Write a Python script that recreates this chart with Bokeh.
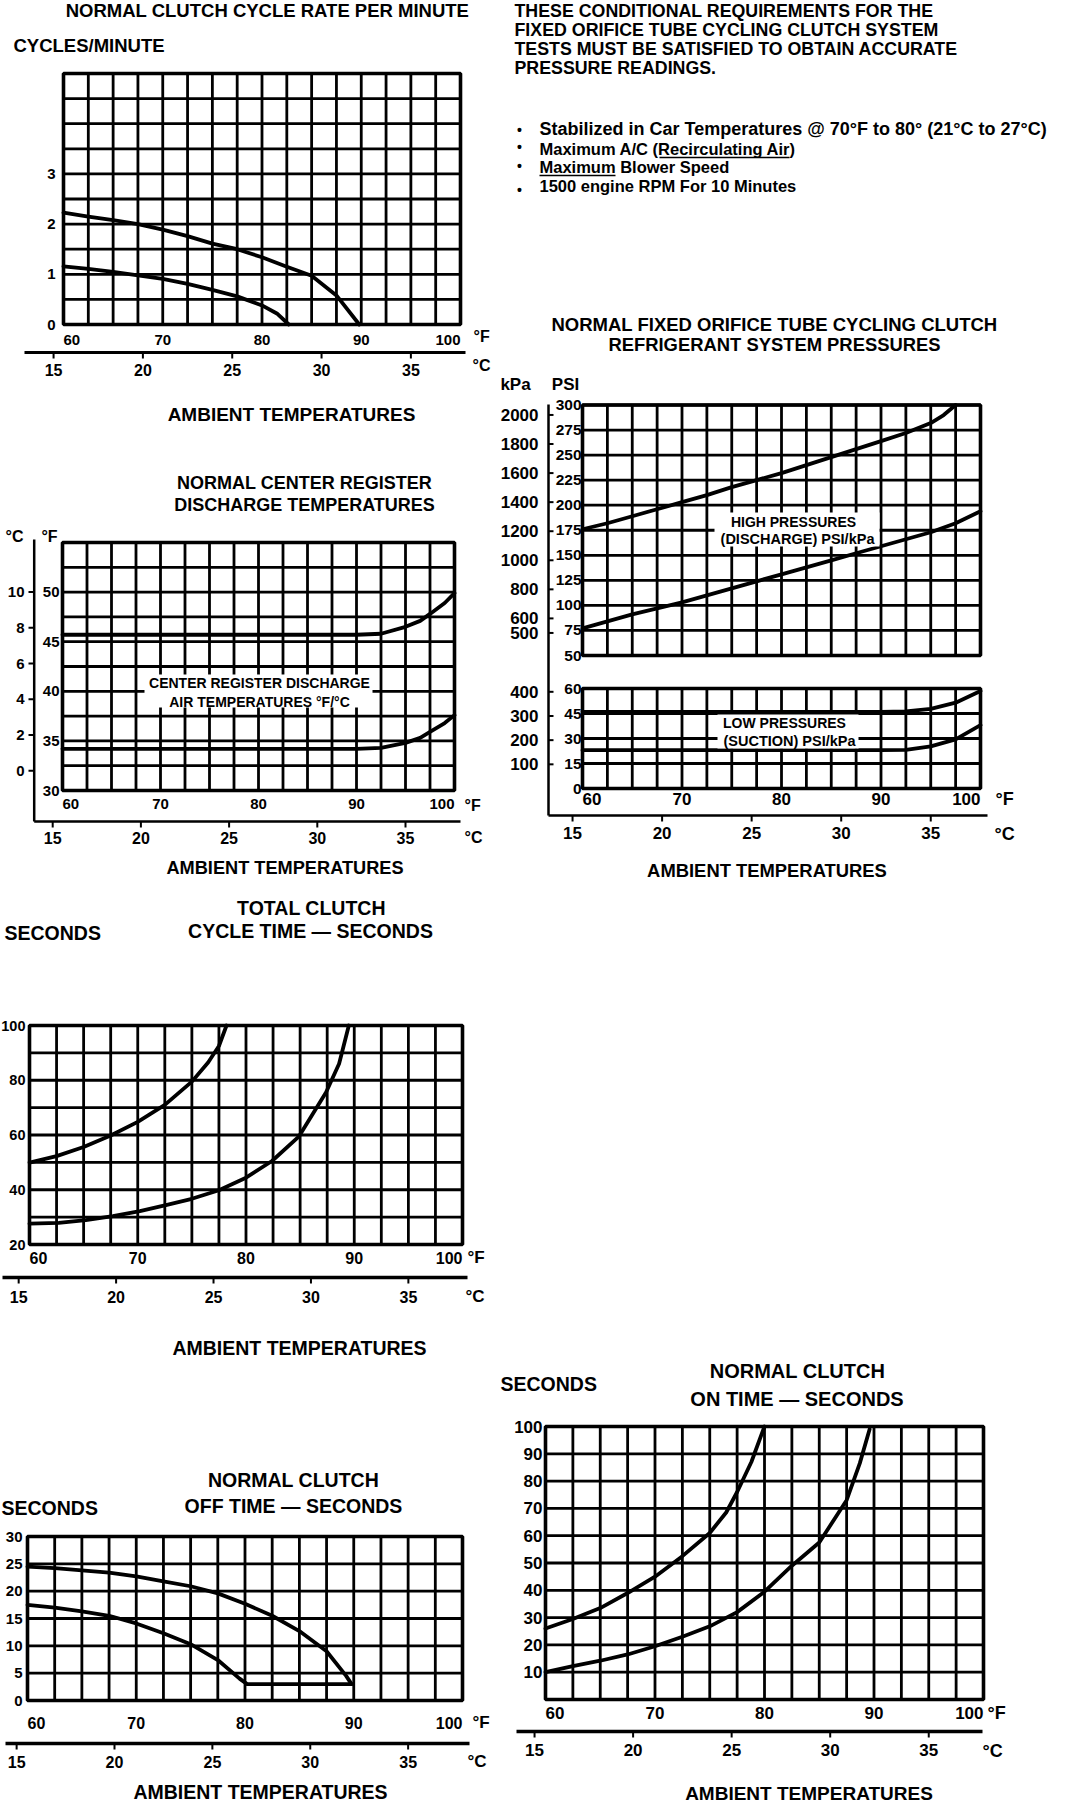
from bokeh.plotting import figure
from bokeh.models import Range1d
from bokeh.core.properties import value
from bokeh.embed import file_html
from bokeh.resources import INLINE

FONT = "Liberation Sans"
W, H = 1056, 1804

# ---------------- shared axis values ----------------
F_GRID = [60, 62.5, 65, 67.5, 70, 72.5, 75, 77.5, 80, 82.5, 85, 87.5, 90, 92.5, 95, 97.5, 100]
F_TICKS = [60, 70, 80, 90, 100]
F_LABELS = ["60", "70", "80", "90", "100"]
C_TICKS = [15, 20, 25, 30, 35]
C_LABELS = ["15", "20", "25", "30", "35"]

# ---------------- 1: clutch cycle rate per minute ----------------
RATE_ROWS = [0, 0.5, 1, 1.5, 2, 2.5, 3, 3.5, 4, 4.5, 5]
RATE_TICKS = [0, 1, 2, 3]
RATE_TICK_LABELS = ["0", "1", "2", "3"]
RATE_HI_F = [60, 62.5, 65, 67.5, 70, 72.5, 75, 77.5, 80, 82.5, 85, 87.5, 89.8]
RATE_HI = [2.23, 2.15, 2.08, 2.0, 1.89, 1.76, 1.61, 1.5, 1.34, 1.15, 0.97, 0.58, 0.0]
RATE_LO_F = [60, 62.5, 65, 67.5, 70, 72.5, 75, 77.5, 80, 81.5, 82.7]
RATE_LO = [1.16, 1.11, 1.05, 0.98, 0.91, 0.81, 0.69, 0.56, 0.38, 0.22, 0.0]

# ---------------- 2: center register discharge temperatures ----------------
REG_ROWS = [30, 32.5, 35, 37.5, 40, 42.5, 45, 47.5, 50, 52.5, 55]
REG_TICKS_F = [30, 35, 40, 45, 50]
REG_TICK_LABELS_F = ["30", "35", "40", "45", "50"]
REG_TICKS_C = [0, 2, 4, 6, 8, 10]
REG_TICK_LABELS_C = ["0", "2", "4", "6", "8", "10"]
REG_F = [60, 70, 80, 90, 92.5, 95, 96.5, 97.5, 99, 100]
REG_HI = [45.7, 45.7, 45.7, 45.7, 45.8, 46.5, 47.1, 47.8, 48.9, 49.9]
REG_LO = [34.2, 34.2, 34.2, 34.2, 34.3, 34.8, 35.3, 35.9, 36.8, 37.6]

# ---------------- 3: total clutch cycle time ----------------
CYC_ROWS = [20, 30, 40, 50, 60, 70, 80, 90, 100]
CYC_TICKS = [20, 40, 60, 80, 100]
CYC_TICK_LABELS = ["20", "40", "60", "80", "100"]
CYC_HI_F = [60, 62.5, 65, 67.5, 70, 72.5, 75, 76.5, 77.5, 78.2]
CYC_HI = [49.9, 52.3, 55.6, 59.8, 64.8, 71.0, 79.5, 86.5, 92.5, 100]
CYC_LO_F = [60, 62.7, 65.2, 67.7, 70.2, 72.6, 75, 77.5, 80, 82.4, 84.9, 87.4, 88.6, 89.5]
CYC_LO = [27.6, 27.9, 28.9, 30.4, 32.2, 34.4, 36.7, 39.8, 44.4, 50.5, 59.5, 75.6, 86, 100]

# ---------------- 4: clutch off time ----------------
OFF_ROWS = [0, 5, 10, 15, 20, 25, 30]
OFF_TICKS = [0, 5, 10, 15, 20, 25, 30]
OFF_TICK_LABELS = ["0", "5", "10", "15", "20", "25", "30"]
OFF_HI_F = [60, 62.5, 65, 67.5, 70, 72.5, 75, 77.5, 80, 82.5, 85, 87.5, 89.3, 89.8]
OFF_HI = [24.5, 24.2, 23.8, 23.4, 22.7, 21.8, 20.9, 19.6, 17.7, 15.5, 12.7, 9.0, 4.5, 3.0]
OFF_LO_F = [60, 62.5, 65, 67.5, 70, 72.5, 75, 77.5, 79.5, 80.2, 89.8]
OFF_LO = [17.5, 17.0, 16.3, 15.5, 14.1, 12.3, 10.3, 7.4, 4.0, 3.0, 3.0]

# ---------------- 5: refrigerant system pressures ----------------
HP_ROWS = [50, 75, 100, 125, 150, 175, 200, 225, 250, 275, 300]
HP_TICK_LABELS = ["50", "75", "100", "125", "150", "175", "200", "225", "250", "275", "300"]
LP_ROWS = [0, 15, 30, 45, 60]
LP_TICK_LABELS = ["0", "15", "30", "45", "60"]
KPA_HI = [500, 600, 800, 1000, 1200, 1400, 1600, 1800, 2000]
KPA_LO = [100, 200, 300, 400]
HP_HI_F = [60, 62.5, 65, 67.5, 70, 72.5, 75, 77.5, 80, 82.5, 85, 87.5, 90, 92.5, 95, 96.3, 97.5]
HP_HI = [176, 182, 189, 196, 203, 210, 218, 225, 232, 240, 248, 256, 264, 272, 282, 290, 300]
HP_LO_F = [60, 62.5, 65, 67.5, 70, 72.5, 75, 77.5, 80, 82.5, 85, 87.5, 90, 92.5, 95, 97.5, 100]
HP_LO = [77, 84, 91, 97, 103, 110, 117, 124, 131, 138, 145, 152, 159, 166, 173, 182, 194]
LP_F = [60, 70, 80, 90, 92.5, 95, 97.5, 100]
LP_HI = [46, 46, 46, 46, 46.3, 47.8, 51.5, 58.5]
LP_LO = [23, 23, 23, 23, 23.2, 25.3, 29.5, 38]

# ---------------- 6: clutch on time ----------------
ON_ROWS = [0, 10, 20, 30, 40, 50, 60, 70, 80, 90, 100]
ON_TICKS = [10, 20, 30, 40, 50, 60, 70, 80, 90, 100]
ON_TICK_LABELS = ["10", "20", "30", "40", "50", "60", "70", "80", "90", "100"]
ON_HI_F = [60, 62.5, 65, 67.5, 70, 72.5, 75, 76.5, 77.5, 78.8, 80]
ON_HI = [26, 29.5, 33.5, 39, 45, 52.5, 61, 68.5, 76, 87, 100]
ON_LO_F = [60, 62.5, 65, 67.5, 70, 72.5, 75, 77.5, 80, 82.5, 85, 87.5, 88.7, 89.6]
ON_LO = [10, 12.2, 14.2, 16.5, 19.5, 23, 26.8, 32, 39.5, 49, 57.5, 73, 86.5, 99]

# ---------------- text block ----------------
PARA = ["THESE CONDITIONAL REQUIREMENTS FOR THE",
        "FIXED ORIFICE TUBE CYCLING CLUTCH SYSTEM",
        "TESTS MUST BE SATISFIED TO OBTAIN ACCURATE",
        "PRESSURE READINGS."]
BULLETS = ["Stabilized in Car Temperatures @ 70°F to 80° (21°C to 27°C)",
           "Maximum A/C (Recirculating Air)",
           "Maximum Blower Speed",
           "1500 engine RPM For 10 Minutes"]

# ================= figure =================
p = figure(width=W, height=H, x_range=Range1d(8, 8 + W), y_range=Range1d(8 + H, 8),
           x_axis_type=None, y_axis_type=None, toolbar_location=None,
           output_backend="svg", outline_line_color=None)
p.min_border_left = p.min_border_right = p.min_border_top = p.min_border_bottom = 0

XR, YR = {}, {}


def ranges(name, L, R, T, B, y0, y1):
    """Scales for one panel: degF box spans L..R px, value box spans B..T px."""
    kx = (R - L) / 40.0
    xs = 60 - (L - 8) / kx
    xe = xs + W / kx
    ky = (B - T) / (y1 - y0)
    ys = y0 - (8 + H - B) / ky
    ye = y1 + (T - 8) / ky
    XR[name + "F"] = Range1d(xs, xe)
    XR[name + "C"] = Range1d((xs - 32) / 1.8, (xe - 32) / 1.8)
    YR[name] = Range1d(ys, ye)
    return ys, ye


ys2, ye2 = ranges("p2", 70, 462, 550, 798, 30, 55)
ranges("p1", 71, 468, 81, 332, 0, 5)
ranges("p3", 37, 470, 1033, 1252, 20, 100)
ranges("p4", 35, 470, 1544, 1708, 0, 30)
ysu, yeu = ranges("p5u", 590, 988, 412.5, 663, 50, 300)
ysl, yel = ranges("p5l", 590, 988, 696, 796, 0, 60)
ranges("p6", 553, 991, 1434, 1707, 0, 100)
YR["p2C"] = Range1d((ys2 - 32) / 1.8, (ye2 - 32) / 1.8)
YR["p5uK"] = Range1d(ysu * 6.895, yeu * 6.895)
YR["p5lK"] = Range1d(ysl * 6.895, yel * 6.895)
p.extra_x_ranges = XR
p.extra_y_ranges = YR


def T(x, y, s, size, align="center", xr="default", yr="default", baseline="middle", style="bold"):
    if not isinstance(s, list):
        s = [s]
    n = len(s)
    x = x if isinstance(x, list) else [x] * n
    y = y if isinstance(y, list) else [y] * n
    p.text(x=x, y=y, text=s, x_range_name=xr, y_range_name=yr,
           text_font=value(FONT), text_font_size=f"{size}px", text_font_style=style,
           text_align=align, text_baseline=baseline, text_color="black")


def grid(name, rows, lw=2.8):
    y0, y1 = rows[0], rows[-1]
    n, m = len(F_GRID), len(rows)
    p.segment(x0=F_GRID, x1=F_GRID, y0=[y0] * n, y1=[y1] * n, x_range_name=name + "F",
              y_range_name=name, line_color="black", line_width=lw)
    p.segment(x0=[60] * m, x1=[100] * m, y0=rows, y1=rows, x_range_name=name + "F",
              y_range_name=name, line_color="black", line_width=lw)
    p.quad(left=[60], right=[100], bottom=[y0], top=[y1], x_range_name=name + "F",
           y_range_name=name, fill_color=None, line_color="black", line_width=3.6)


def curve(name, xs, ys, lw=3.8):
    p.line(xs, ys, x_range_name=name + "F", y_range_name=name, line_color="black",
           line_width=lw, line_join="round", line_cap="round")


def f_labels(name, ly, size):
    T(F_TICKS[:1], ly, F_LABELS[:1], size, "left", xr=name + "F")
    T(F_TICKS[1:4], ly, F_LABELS[1:4], size, "center", xr=name + "F")
    T(F_TICKS[4:], ly, F_LABELS[4:], size, "right", xr=name + "F")


def c_axis(name, ly, x0, x1, lw, label_y, size):
    p.segment(x0=[x0], x1=[x1], y0=[ly], y1=[ly], line_color="black", line_width=lw)
    p.segment(x0=C_TICKS, x1=C_TICKS, y0=[ly] * 5, y1=[ly + 6] * 5, x_range_name=name + "C",
              line_color="black", line_width=2)
    T(C_TICKS, label_y, C_LABELS, size, "center", xr=name + "C")


# ---------------- panel 1 ----------------
grid("p1", RATE_ROWS)
curve("p1", RATE_HI_F, RATE_HI)
curve("p1", RATE_LO_F, RATE_LO)
T(63, RATE_TICKS, RATE_TICK_LABELS, 15, "right", yr="p1")
T(275, 18, "NORMAL CLUTCH CYCLE RATE PER MINUTE", 18.5)
T(21, 53, "CYCLES/MINUTE", 18.5, "left")
f_labels("p1", 347, 15)
T(481, 344, "°F", 16, "left")
c_axis("p1", 360, 32, 473, 3, 377, 16)
T(480, 373, "°C", 16, "left")
T(299, 422, "AMBIENT TEMPERATURES", 19)

# ---------------- panel 2 ----------------
grid("p2", REG_ROWS)
curve("p2", REG_F, REG_HI)
curve("p2", REG_F, REG_LO)
T(67, REG_TICKS_F, REG_TICK_LABELS_F, 15, "right", yr="p2")
p.segment(x0=[41.7], x1=[41.7], y0=[547], y1=[829], line_color="black", line_width=2.5)
p.segment(x0=[36] * 6, x1=[41.7] * 6, y0=REG_TICKS_C, y1=REG_TICKS_C, y_range_name="p2C",
          line_color="black", line_width=2)
T(32, REG_TICKS_C, REG_TICK_LABELS_C, 15, "right", yr="p2C")
T(312, 490, "NORMAL CENTER REGISTER", 18)
T(312, 512, "DISCHARGE TEMPERATURES", 18)
T(22, 544, "°C", 16)
T(57, 544, "°F", 16)
f_labels("p2", 811, 15)
T(472, 813, "°F", 16, "left")
c_axis("p2", 829, 41.7, 468, 2.5, 845, 16)
T(472, 845, "°C", 16, "left")
T(292.5, 875, "AMBIENT TEMPERATURES", 18.2)
p.quad(left=[152], right=[380], top=[682], bottom=[715], fill_color="white", line_color=None)
T(267, 690, "CENTER REGISTER DISCHARGE", 14)
T(267, 709, "AIR TEMPERATURES °F/°C", 14)

# ---------------- panel 3 ----------------
grid("p3", CYC_ROWS)
curve("p3", CYC_HI_F, CYC_HI)
curve("p3", CYC_LO_F, CYC_LO)
T(33, CYC_TICKS, CYC_TICK_LABELS, 14.5, "right", yr="p3")
T(12, 940, "SECONDS", 19.5, "left")
T(319, 915, "TOTAL CLUTCH", 19.5)
T(318, 938, "CYCLE TIME — SECONDS", 19.5)
f_labels("p3", 1265, 16)
T(475, 1265, "°F", 17, "left")
c_axis("p3", 1285, 10, 475, 3.5, 1304, 16)
T(473, 1304, "°C", 17, "left")
T(307, 1355, "AMBIENT TEMPERATURES", 19.5)

# ---------------- panel 4 ----------------
grid("p4", OFF_ROWS)
curve("p4", OFF_HI_F, OFF_HI)
curve("p4", OFF_LO_F, OFF_LO)
T(30, OFF_TICKS, OFF_TICK_LABELS, 15, "right", yr="p4")
T(9, 1515, "SECONDS", 19.5, "left")
T(301, 1487, "NORMAL CLUTCH", 19.5)
T(301, 1513, "OFF TIME — SECONDS", 19.5)
f_labels("p4", 1730, 16)
T(480, 1730, "°F", 17, "left")
c_axis("p4", 1751, 13, 477, 3.5, 1769, 16)
T(475, 1769, "°C", 17, "left")
T(268, 1799, "AMBIENT TEMPERATURES", 19.5)

# ---------------- panel 5 ----------------
grid("p5u", HP_ROWS)
grid("p5l", LP_ROWS)
curve("p5u", HP_HI_F, HP_HI)
curve("p5u", HP_LO_F, HP_LO)
curve("p5l", LP_F, LP_HI)
curve("p5l", LP_F, LP_LO)
T(589, HP_ROWS, HP_TICK_LABELS, 15.5, "right", yr="p5u")
T(589, LP_ROWS, LP_TICK_LABELS, 15.5, "right", yr="p5l")
p.segment(x0=[556], x1=[556], y0=[412], y1=[823], line_color="black", line_width=2.5)
p.segment(x0=[556] * 9, x1=[561] * 9, y0=KPA_HI, y1=KPA_HI, y_range_name="p5uK",
          line_color="black", line_width=2)
p.segment(x0=[556] * 4, x1=[561] * 4, y0=KPA_LO, y1=KPA_LO, y_range_name="p5lK",
          line_color="black", line_width=2)
T(546, KPA_HI, [str(v) for v in KPA_HI], 17, "right", yr="p5uK")
T(546, KPA_LO, [str(v) for v in KPA_LO], 17, "right", yr="p5lK")
T(782, 332, "NORMAL FIXED ORIFICE TUBE CYCLING CLUTCH", 18.5)
T(782, 352, "REFRIGERANT SYSTEM PRESSURES", 18.4)
T(523, 392, "kPa", 17)
T(573, 392, "PSI", 17)
f_labels("p5u", 806, 17)
T(1003, 806, "°F", 18, "left")
c_axis("p5u", 823, 556, 995, 2.5, 840, 17)
T(1002, 841, "°C", 18, "left")
T(774.5, 878, "AMBIENT TEMPERATURES", 18.4)
p.quad(left=[722], right=[887], top=[520], bottom=[554], fill_color="white", line_color=None)
T(801, 529, "HIGH PRESSURES", 14)
T(805, 546, "(DISCHARGE) PSI/kPa", 14.5)
p.quad(left=[725], right=[866], top=[722], bottom=[756], fill_color="white", line_color=None)
T(792, 730, "LOW PRESSURES", 14)
T(797, 748, "(SUCTION) PSI/kPa", 14.5)

# ---------------- panel 6 ----------------
grid("p6", ON_ROWS)
curve("p6", ON_HI_F, ON_HI)
curve("p6", ON_LO_F, ON_LO)
T(550, ON_TICKS, ON_TICK_LABELS, 17, "right", yr="p6")
T(508, 1391, "SECONDS", 19.5, "left")
T(805, 1378, "NORMAL CLUTCH", 20)
T(804.5, 1406, "ON TIME — SECONDS", 20)
f_labels("p6", 1720, 17)
T(995, 1720, "°F", 18, "left")
c_axis("p6", 1739, 524, 990, 3.5, 1757, 17)
T(990, 1758, "°C", 18, "left")
T(816.5, 1801, "AMBIENT TEMPERATURES", 19)

# ---------------- text block ----------------
T(522, [18, 37, 56, 75], PARA, 17.8, "left")
T(547, 136, BULLETS[0], 18, "left")
T(547, [156, 174, 193], BULLETS[1:], 16.5, "left")
T(527, [137, 154, 173, 197], ["•", "•", "•", "•"], 14)
p.segment(x0=[667, 547], x1=[797, 623], y0=[165, 183], y1=[165, 183], line_color="black", line_width=1.5)

open("out.html", "w").write(file_html(p, INLINE))
